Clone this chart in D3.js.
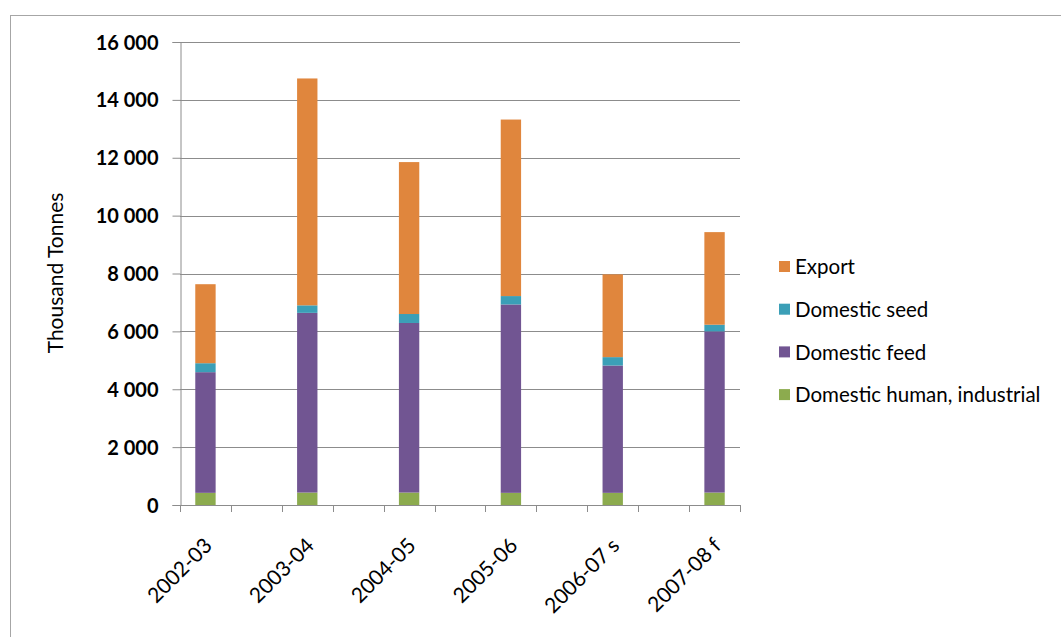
<!DOCTYPE html>
<html>
<head>
<meta charset="utf-8">
<script src="https://cdn.jsdelivr.net/npm/d3@7"></script>
<style>
body{margin:0;background:#fff;}
svg text{font-family:Lato,"Open Sans",sans-serif;fill:#000;}
</style>
</head>
<body>
<div class="chart"></div>
<script>
// seasons shown on the x axis (empty slot between each pair)
var seasons = ["2002-03","2003-04","2004-05","2005-06","2006-07 s","2007-08 f"];
var humanInd = [420, 430, 430, 420, 420, 430];
var feed     = [4170, 6210, 5860, 6510, 4400, 5570];
var seed     = [310, 260, 310, 290, 290, 230];
var exportT  = [2730, 7840, 5250, 6100, 2860, 3200];
var yTicks = [0,2000,4000,6000,8000,10000,12000,14000,16000];

var seriesNames = ["Domestic human, industrial","Domestic feed","Domestic seed","Export"];
var colors = ["#8cab4e","#715592","#3b9fb7","#e0863d"];

var W=1061, H=637;
var svg = d3.select(".chart").append("svg")
    .attr("width",W).attr("height",H);

// outer frame
svg.append("rect")
    .attr("x",10.5).attr("y",15.5)
    .attr("width",1060).attr("height",640)
    .style("fill","none").style("stroke","#a6a6a6");

var pLeft=180, pRight=740, pTop=42, pBottom=505;

var slots = d3.range(seasons.length*2-1);
var x = d3.scaleBand().domain(slots).range([pLeft,pRight]).paddingInner(0).paddingOuter(0);
var y = d3.scaleLinear().domain([0,16000]).range([pBottom,pTop]);

// gridlines
svg.append("g").selectAll("line").data(yTicks.slice(1)).enter().append("line")
    .attr("x1",pLeft).attr("x2",pRight)
    .attr("y1",function(d){return Math.round(y(d))+0.5;})
    .attr("y2",function(d){return Math.round(y(d))+0.5;})
    .style("stroke","#8c8c8c").style("stroke-width",1);

// stacked data
var rows = seasons.map(function(s,i){
  return {slot:i*2, label:s, v:[humanInd[i],feed[i],seed[i],exportT[i]]};
});
var keys = [0,1,2,3];
var stack = d3.stack().keys(keys).value(function(d,k){return d.v[k];});
var layers = stack(rows);

var bw = x.bandwidth()/2.5;
svg.append("g").selectAll("g").data(layers).enter().append("g")
    .style("fill",function(d,i){return colors[i];})
  .selectAll("rect").data(function(d){return d;}).enter().append("rect")
    .attr("x",function(d){return x(d.data.slot)+x.bandwidth()/2-bw/2;})
    .attr("width",bw)
    .attr("y",function(d){return y(d[1]);})
    .attr("height",function(d){return y(d[0])-y(d[1]);});

// y axis
var yAxis = d3.axisLeft(y).tickValues(yTicks).tickSize(8).tickPadding(14)
    .tickFormat(function(d){return d3.format(",")(d).replace(",","\u00a0");});
var gy = svg.append("g").attr("transform","translate("+(pLeft+0.5)+",0)").call(yAxis);
gy.select(".domain").style("stroke","#8c8c8c");
gy.selectAll(".tick line").style("stroke","#8c8c8c");
gy.selectAll(".tick text").style("font-size","20px").style("font-weight","bold")
    .style("font-family","Lato,sans-serif").attr("dy","0.35em");

// x axis
var bounds = slots.map(function(s){return x(s);}).concat([pRight]);
var gx = svg.append("g");
gx.append("line").attr("x1",pLeft).attr("x2",pRight)
    .attr("y1",pBottom+0.5).attr("y2",pBottom+0.5).style("stroke","#8c8c8c");
gx.selectAll("line.tk").data(bounds).enter().append("line").attr("class","tk")
    .attr("x1",function(d){return Math.round(d)+0.5;})
    .attr("x2",function(d){return Math.round(d)+0.5;})
    .attr("y1",pBottom).attr("y2",pBottom+7).style("stroke","#8c8c8c");
gx.selectAll("text").data(rows).enter().append("text")
    .attr("transform",function(d){
      return "translate("+(x(d.slot)+x.bandwidth()/2+8)+","+(pBottom+42)+") rotate(-45)";})
    .attr("text-anchor","end")
    .style("font-size","21px")
    .text(function(d){return d.label;});

// y title
svg.append("text")
    .attr("transform","translate(63,273) rotate(-90)")
    .attr("text-anchor","middle")
    .style("font-size","21px")
    .text("Thousand Tonnes");

// legend, export on top
var legendOrder = [3,2,1,0];
var lg = svg.append("g").selectAll("g").data(legendOrder).enter().append("g")
    .attr("transform",function(d,i){return "translate(779,"+(267+i*42.7)+")";});
lg.append("rect").attr("x",0).attr("y",-6).attr("width",11).attr("height",11)
    .style("fill",function(d){return colors[d];});
lg.append("text").attr("x",16).attr("dy","0.35em")
    .style("font-size","20.5px")
    .text(function(d){return seriesNames[d];});
</script>
</body>
</html>
